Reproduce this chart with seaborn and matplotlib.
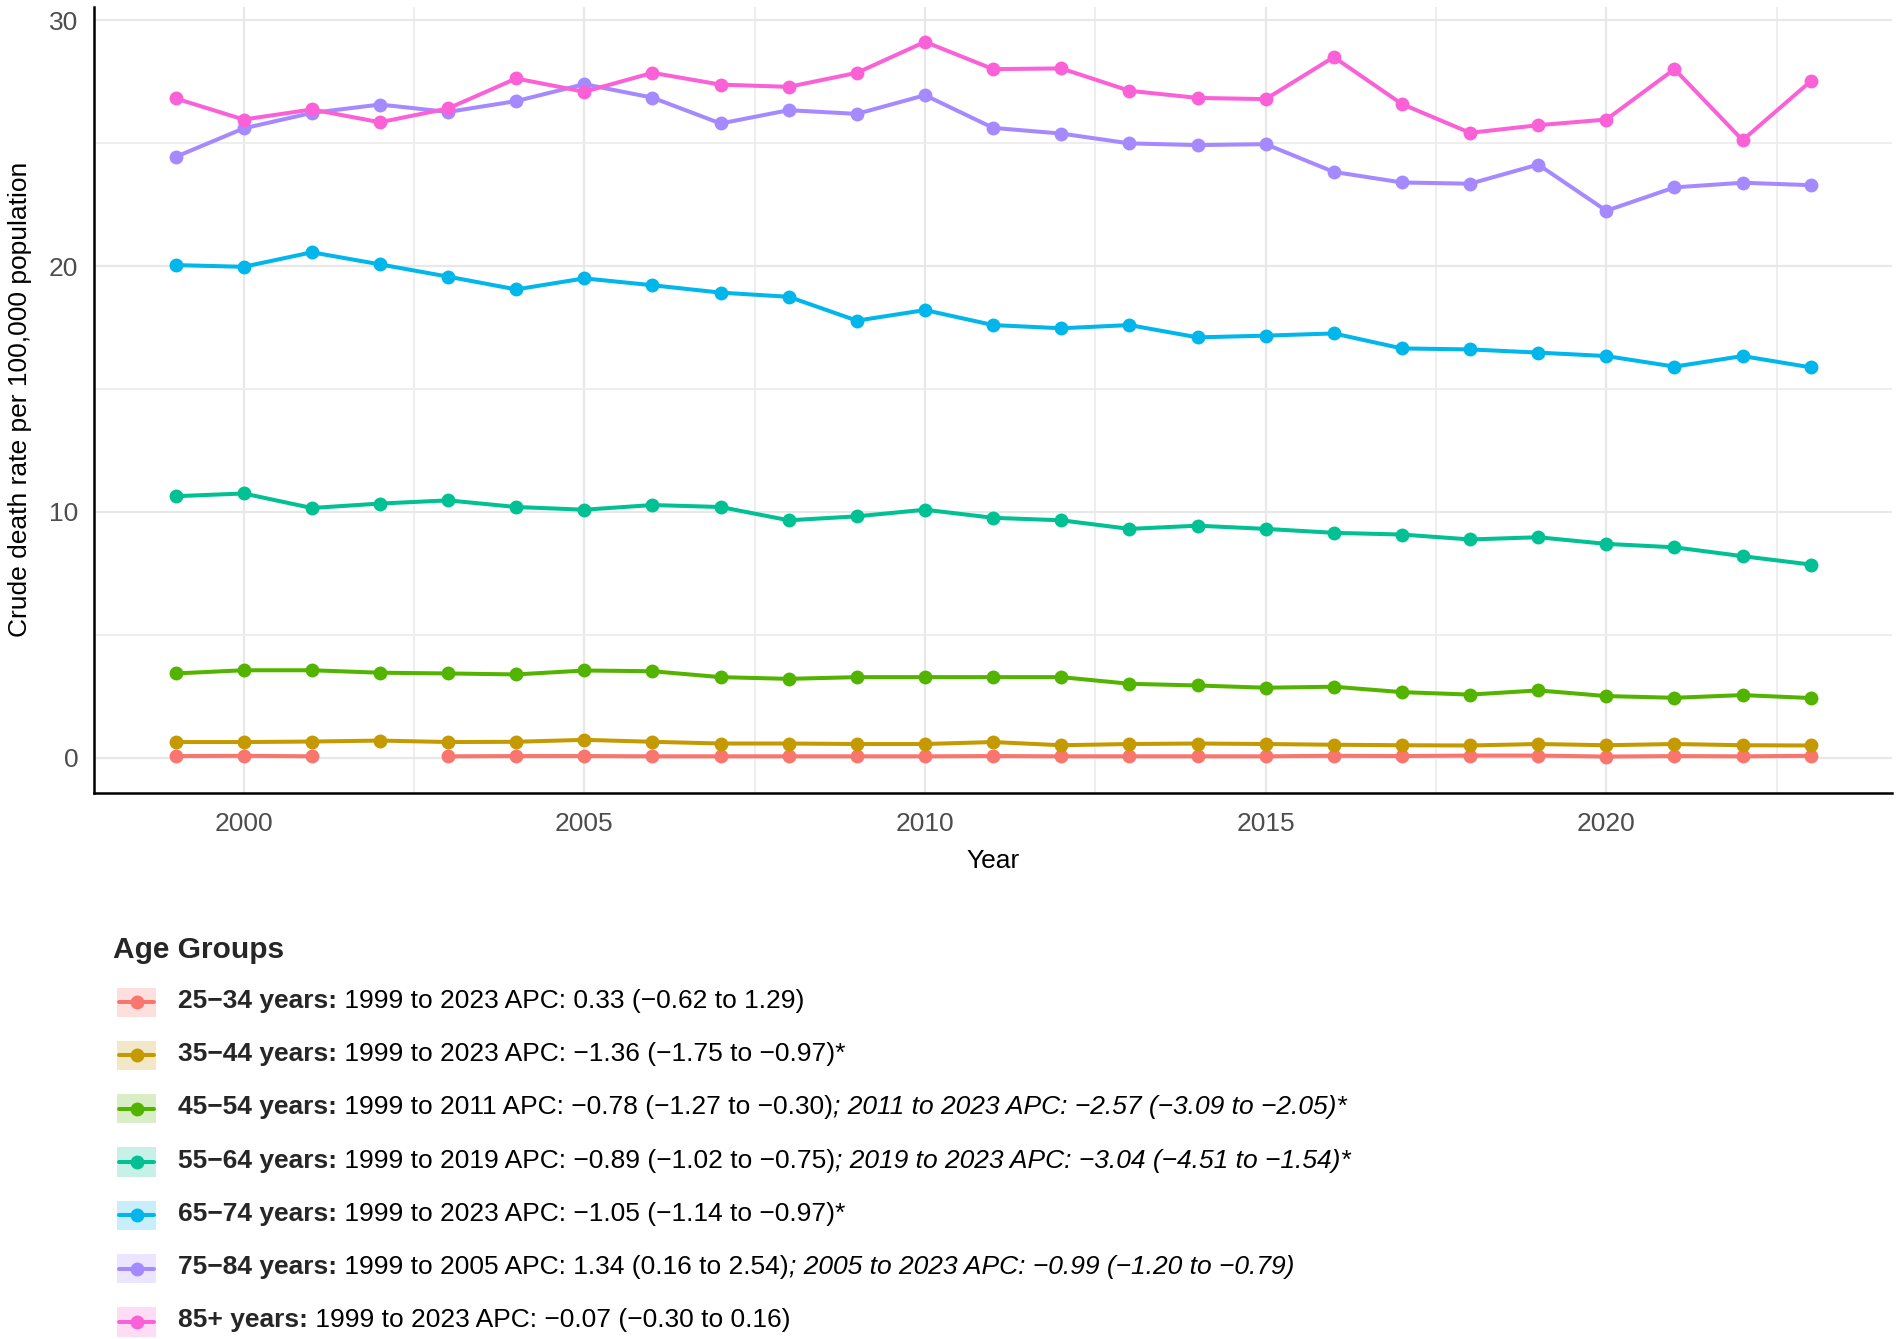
import numpy as np
import pandas as pd
import matplotlib
matplotlib.use("Agg")
import matplotlib.pyplot as plt
import seaborn as sns
from matplotlib.lines import Line2D
from matplotlib.patches import Rectangle
from matplotlib.legend_handler import HandlerBase
from matplotlib.text import Annotation

# ---------------------------------------------------------------
# Data (crude death rate per 100,000)
# ---------------------------------------------------------------
years = list(range(1999, 2024))
groups = ["25−34 years", "35−44 years", "45−54 years", "55−64 years",
          "65−74 years", "75−84 years", "85+ years"]
colors = ["#F8766D", "#C49A00", "#53B400", "#00C094", "#00B6EB", "#A58AFF", "#FB61D7"]

rate_25_34 = [0.07, 0.08, 0.06, np.nan, 0.06, 0.07, 0.07, 0.06, 0.06, 0.06, 0.06, 0.06, 0.07,
              0.06, 0.06, 0.06, 0.06, 0.08, 0.07, 0.09, 0.09, 0.05, 0.07, 0.06, 0.08]
rate_35_44 = [0.64, 0.64, 0.66, 0.70, 0.64, 0.65, 0.73, 0.65, 0.58, 0.58, 0.56, 0.56, 0.64,
              0.51, 0.56, 0.58, 0.56, 0.53, 0.51, 0.50, 0.56, 0.51, 0.56, 0.51, 0.50]
rate_45_54 = [3.43, 3.56, 3.56, 3.46, 3.43, 3.39, 3.55, 3.52, 3.28, 3.21, 3.28, 3.28, 3.28,
              3.28, 3.01, 2.94, 2.85, 2.89, 2.67, 2.57, 2.74, 2.51, 2.44, 2.55, 2.43]
rate_55_64 = [10.64, 10.75, 10.16, 10.34, 10.47, 10.20, 10.09, 10.28, 10.20, 9.66, 9.82, 10.09, 9.76,
              9.66, 9.31, 9.44, 9.31, 9.15, 9.08, 8.88, 8.97, 8.70, 8.56, 8.20, 7.86]
rate_65_74 = [20.04, 19.97, 20.56, 20.07, 19.57, 19.05, 19.50, 19.22, 18.92, 18.75, 17.78, 18.21, 17.60,
              17.47, 17.60, 17.10, 17.17, 17.26, 16.65, 16.61, 16.48, 16.34, 15.91, 16.34, 15.88]
rate_75_84 = [24.44, 25.60, 26.23, 26.57, 26.27, 26.71, 27.40, 26.85, 25.80, 26.34, 26.19, 26.95, 25.62,
              25.39, 24.99, 24.92, 24.96, 23.83, 23.40, 23.35, 24.13, 22.25, 23.20, 23.39, 23.29]
rate_85_up = [26.82, 25.96, 26.37, 25.85, 26.41, 27.63, 27.09, 27.86, 27.38, 27.29, 27.86, 29.12, 28.01,
              28.04, 27.13, 26.84, 26.79, 28.50, 26.59, 25.42, 25.73, 25.96, 28.01, 25.12, 27.52]

# legend text pieces: bold / plain / italic
label_bold = [g + ":" for g in groups]
label_plain = [" 1999 to 2023 APC: 0.33 (−0.62 to 1.29)",
               " 1999 to 2023 APC: −1.36 (−1.75 to −0.97)*",
               " 1999 to 2011 APC: −0.78 (−1.27 to −0.30)",
               " 1999 to 2019 APC: −0.89 (−1.02 to −0.75)",
               " 1999 to 2023 APC: −1.05 (−1.14 to −0.97)*",
               " 1999 to 2005 APC: 1.34 (0.16 to 2.54)",
               " 1999 to 2023 APC: −0.07 (−0.30 to 0.16)"]
label_italic = ["",
                "",
                "; 2011 to 2023 APC: −2.57 (−3.09 to −2.05)*",
                "; 2019 to 2023 APC: −3.04 (−4.51 to −1.54)*",
                "",
                "; 2005 to 2023 APC: −0.99 (−1.20 to −0.79)",
                ""]

series = [rate_25_34, rate_35_44, rate_45_54, rate_55_64, rate_65_74, rate_75_84, rate_85_up]
frames = []
for g, vals in zip(groups, series):
    d = pd.DataFrame({"year": years, "rate": vals, "group": g})
    # break the line where a year is missing
    d["segment"] = d["rate"].isna().cumsum()
    frames.append(d.dropna())
df = pd.concat(frames, ignore_index=True)


class KeyHandler(HandlerBase):
    """ggplot-like key: tinted box with a line and a point."""

    def create_artists(self, legend, orig_handle, xdescent, ydescent, width, height, fontsize, trans):
        c = orig_handle.get_color()
        x0 = -xdescent + 3.0          # small indent, in points
        w = width - 3.0
        cy = 4.0                      # vertical centre of the key, in points
        h = 21.0
        box = Rectangle((x0, cy - h / 2), w, h, facecolor=c, alpha=0.22, edgecolor="none", transform=trans)
        line = Line2D([x0 + 1.5, x0 + w - 1.5], [cy, cy], color=c, linewidth=2.9, transform=trans)
        dot = Line2D([x0 + w / 2], [cy], linestyle="none", marker="o", markersize=10,
                     markeredgewidth=0, color=c, transform=trans)
        return [box, line, dot]


# ---------------------------------------------------------------
# Plot
# ---------------------------------------------------------------
sns.set_theme(style="whitegrid")
plt.rcParams['font.family'] = ['Liberation Sans', 'DejaVu Sans']

fig = plt.figure(figsize=(19.02, 13.39), dpi=100)
ax = fig.add_axes([0.0493, 0.408, 0.9457, 0.587])

sns.lineplot(data=df, x="year", y="rate", hue="group", hue_order=groups, palette=colors,
             units="segment", estimator=None, marker="o", markersize=10, markeredgewidth=0,
             linewidth=2.9, legend=False, ax=ax)

ax.set_xlim(1997.8, 2024.2)
ax.set_ylim(-1.42, 30.55)
ax.set_xticks([2000, 2005, 2010, 2015, 2020])
ax.set_xticks([2002.5, 2007.5, 2012.5, 2017.5, 2022.5], minor=True)
ax.set_yticks([0, 10, 20, 30])
ax.set_yticks([5, 15, 25], minor=True)
ax.grid(which="major", color="#E8E8E8", linewidth=1.6)
ax.grid(which="minor", color="#EDEDED", linewidth=1.3)
ax.set_facecolor("white")
ax.tick_params(which="both", length=0, labelsize=19, labelcolor="#4D4D4D")
ax.tick_params(axis="x", pad=14)
ax.tick_params(axis="y", pad=11)
for side in ["top", "right"]:
    ax.spines[side].set_visible(False)
for side in ["left", "bottom"]:
    ax.spines[side].set_color("black")
    ax.spines[side].set_linewidth(1.8)
ax.set_xlabel("Year", fontsize=19, color="black", labelpad=9)
ax.set_ylabel("Crude death rate per 100,000 population", fontsize=19, color="black", labelpad=12)

# legend with bold group names; plain and italic parts appended after each name
handles = [Line2D([], [], color=c) for c in colors]
leg = fig.legend(handles, label_bold, handler_map={Line2D: KeyHandler()},
                 loc="upper left", bbox_to_anchor=(0.0594, 0.301), frameon=False,
                 title="Age Groups", title_fontproperties={"weight": "bold", "size": 21.5},
                 prop={"weight": "bold", "size": 19}, handlelength=1.63, handleheight=1.73,
                 handletextpad=0.83, labelspacing=0.65, alignment="left",
                 borderaxespad=0, borderpad=0)

for txt, plain, ital in zip(leg.get_texts(), label_plain, label_italic):
    a1 = Annotation(plain, xy=(1, 0), xycoords=txt, xytext=(0, 0), textcoords="offset points",
                    ha="left", va="bottom", fontsize=19, color="black")
    a1.set_zorder(10)
    fig.add_artist(a1)
    if ital:
        a2 = Annotation(ital, xy=(1, 0), xycoords=a1, xytext=(0, 0), textcoords="offset points",
                        ha="left", va="bottom", fontsize=19, style="italic", color="black")
        a2.set_zorder(11)
        fig.add_artist(a2)

fig.savefig("out.png", dpi=100, facecolor="white")
